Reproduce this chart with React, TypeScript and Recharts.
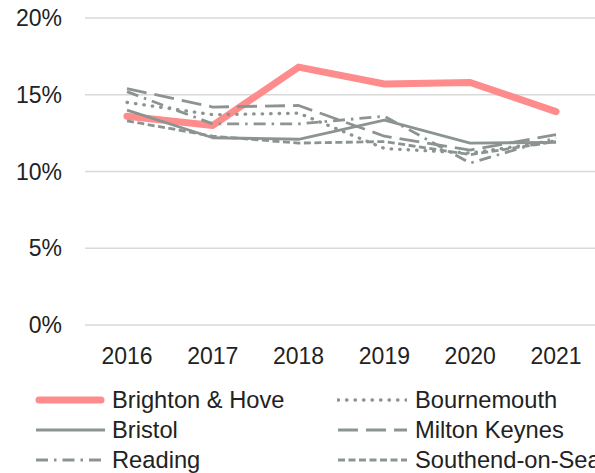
import { CartesianGrid, Legend, Line, LineChart, XAxis, YAxis } from "recharts"

const years = ["2016", "2017", "2018", "2019", "2020", "2021"]

const brighton = [13.6, 13.0, 16.8, 15.7, 15.8, 13.9]
const bournemouth = [14.5, 13.7, 13.8, 11.5, 11.2, 12.0]
const bristol = [14.0, 12.2, 12.1, 13.35, 11.85, 11.9]
const miltonKeynes = [15.4, 14.2, 14.3, 12.3, 11.4, 12.4]
const reading = [15.2, 13.1, 13.1, 13.6, 10.55, 12.2]
const southend = [13.3, 12.3, 11.85, 11.95, 11.1, 11.95]

const yTicks = [0, 5, 10, 15, 20]

const GRAY = "#8c9490"
const PINK = "#ff8c8c"
const FONT = "'Liberation Sans', Arial, sans-serif"

const series = [
  { key: "Brighton & Hove", values: brighton, color: PINK, width: 7, dash: undefined, cap: "round" },
  { key: "Bournemouth", values: bournemouth, color: GRAY, width: 3.3, dash: "0.5 8", cap: "round" },
  { key: "Bristol", values: bristol, color: GRAY, width: 2.8, dash: undefined, cap: "butt" },
  { key: "Milton Keynes", values: miltonKeynes, color: GRAY, width: 2.8, dash: "20 8", cap: "butt" },
  { key: "Reading", values: reading, color: GRAY, width: 2.8, dash: "12 6 2.5 6", cap: "butt" },
  { key: "Southend-on-Sea", values: southend, color: GRAY, width: 2.8, dash: "7 3.5", cap: "butt" },
]

const data = years.map((year, i) => {
  const row: Record<string, string | number> = { year }
  series.forEach((s) => {
    row[s.key] = s.values[i]
  })
  return row
})

function LegendBox() {
  return (
    <div
      style={{
        height: 88,
        display: "grid",
        gridTemplateColumns: "337px 300px",
        gridAutoRows: "30px",
        fontFamily: FONT,
        fontSize: 23.7,
        color: "#222",
      }}
    >
      {series.map((s, i) => {
        const left = i % 2 === 0
        return (
          <div key={s.key} style={{ display: "flex", alignItems: "center", whiteSpace: "nowrap" }}>
            <svg width={70} height={12} style={{ marginLeft: left ? 35 : 0, marginRight: left ? 7 : 8 }}>
              <line
                x1={s.width > 4 ? 4 : 1}
                x2={s.width > 4 ? 66 : 70}
                y1={6}
                y2={6}
                stroke={s.color}
                strokeWidth={s.width}
                strokeDasharray={s.dash}
                strokeLinecap={s.cap as "round" | "butt"}
              />
            </svg>
            <span>{s.key}</span>
          </div>
        )
      })}
    </div>
  )
}

export default function App() {
  return (
    <div
      style={{
        position: "fixed",
        left: 0,
        top: 0,
        width: 595,
        height: 473,
        overflow: "hidden",
        background: "#fff",
      }}
    >
      <LineChart width={600} height={473} data={data} margin={{ top: 18, right: 0, bottom: 0, left: 0 }}>
        <CartesianGrid vertical={false} stroke="#d9d9d9" strokeWidth={1.3} />
        <XAxis
          dataKey="year"
          axisLine={false}
          tickLine={false}
          tickMargin={17}
          height={60}
          padding={{ left: 42, right: 44 }}
          tick={{ fill: "#222", fontSize: 23, fontFamily: FONT }}
        />
        <YAxis
          domain={[0, 20]}
          ticks={yTicks}
          width={85}
          axisLine={false}
          tickLine={false}
          tickMargin={17}
          tickFormatter={(v) => `${v}%`}
          tick={{ fill: "#222", fontSize: 23, fontFamily: FONT }}
        />
        {series.map((s) => (
          <Line
            key={s.key}
            dataKey={s.key}
            stroke={s.color}
            strokeWidth={s.width}
            strokeDasharray={s.dash}
            strokeLinecap={s.cap as "round" | "butt"}
            strokeLinejoin="round"
            dot={false}
            activeDot={false}
            isAnimationActive={false}
          />
        ))}
        <Legend verticalAlign="bottom" content={() => <LegendBox />} />
      </LineChart>
    </div>
  )
}
